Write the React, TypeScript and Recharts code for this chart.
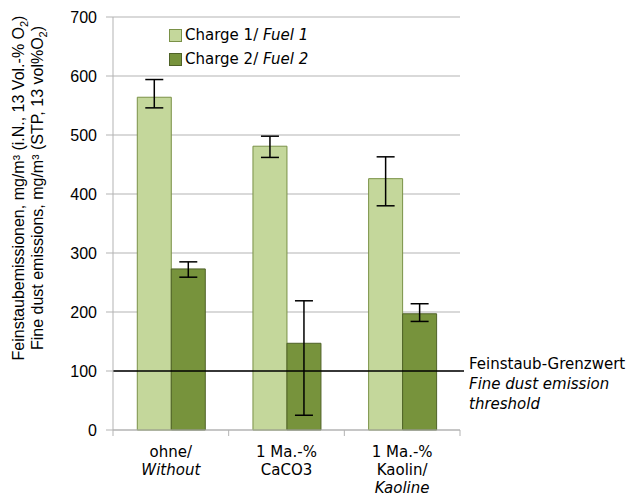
import React from 'react'
import { BarChart, Bar, XAxis, YAxis, CartesianGrid, ErrorBar, ReferenceLine, Legend } from 'recharts'

document.body.style.margin = '0'

const CATEGORIES = ['ohne', 'CaCO3', 'Kaolin']
const CATEGORY_LINES = [
  [{ text: 'ohne/', italic: false }, { text: 'Without', italic: true }],
  [{ text: '1 Ma.-%', italic: false }, { text: 'CaCO3', italic: false }],
  [{ text: '1 Ma.-%', italic: false }, { text: 'Kaolin/', italic: false }, { text: 'Kaoline', italic: true }],
]
// bar values and [minus, plus] error deltas
const FUEL1 = [564, 481, 426]
const FUEL1_ERR = [[18, 30], [19, 17], [46, 37]]
const FUEL2 = [273, 147, 197]
const FUEL2_ERR = [[14, 12], [122, 72], [13, 17]]
const Y_TICKS = [0, 100, 200, 300, 400, 500, 600, 700]
const THRESHOLD = 100

const W = 633
const H = 500
const X_AXIS_H = 30
const MARGIN = { top: 17, right: 173, bottom: 70 - X_AXIS_H, left: 0 }
const Y_AXIS_W = 113
const PLOT_W = W - MARGIN.right - Y_AXIS_W

const LIGHT = '#C4D79B'
const LIGHT_EDGE = '#7a9147'
const DARK = '#77933C'
const DARK_EDGE = '#4f6228'
const GRID = '#b3b3b3'
const SANS = '"DejaVu Sans", Verdana, sans-serif'
const ARIAL = '"Liberation Sans", Arial, sans-serif'

const data = CATEGORIES.map((c, i) => ({
  cat: c,
  fuel1: FUEL1[i],
  fuel1Err: FUEL1_ERR[i],
  fuel2: FUEL2[i],
  fuel2Err: FUEL2_ERR[i],
}))

function CategoryTick(props: any) {
  const { x, y, index } = props
  const band = PLOT_W / CATEGORIES.length
  const lines = CATEGORY_LINES[index] || []
  return (
    <g>
      <line x1={x - band / 2} x2={x - band / 2} y1={y - 6} y2={y} stroke={GRID} />
      {index === CATEGORIES.length - 1 && (
        <line x1={x + band / 2} x2={x + band / 2} y1={y - 6} y2={y} stroke={GRID} />
      )}
      <text textAnchor="middle" fontFamily={SANS} fontSize={15} fill="#000">
        {lines.map((l, i) => (
          <tspan key={i} x={x} y={y + 21 + i * 18} fontStyle={l.italic ? 'italic' : 'normal'}>
            {l.text}
          </tspan>
        ))}
      </text>
    </g>
  )
}

function YLabel() {
  const cy = 188
  return (
    <g fontFamily={ARIAL} fontSize={16} fill="#000">
      <text transform={`translate(24, ${cy}) rotate(-90)`} textAnchor="middle">
        Feinstaubemissionen, mg/m³ (i.N., 13 Vol.-% O
        <tspan dy={4} fontSize={11}>2</tspan>
        <tspan dy={-4}>)</tspan>
      </text>
      <text transform={`translate(43, ${cy}) rotate(-90)`} textAnchor="middle">
        Fine dust emissions, mg/m³ (STP, 13 vol%O
        <tspan dy={4} fontSize={11}>2</tspan>
        <tspan dy={-4}>)</tspan>
      </text>
    </g>
  )
}

function ThresholdLine(props: any) {
  const { x1, x2, y1 } = props
  return (
    <g>
      <line x1={x1} x2={x2 + 4} y1={y1} y2={y1} stroke="#000" strokeWidth={1.5} />
      <text fontFamily={SANS} fontSize={15} fill="#000">
        <tspan x={x2 + 9} y={y1 - 2}>Feinstaub-Grenzwert</tspan>
        <tspan x={x2 + 9} y={y1 + 18} fontStyle="italic">Fine dust emission</tspan>
        <tspan x={x2 + 9} y={y1 + 38} fontStyle="italic">threshold</tspan>
      </text>
    </g>
  )
}

function FuelLegend() {
  const items = [
    { color: LIGHT, edge: LIGHT_EDGE, name: 'Charge 1/ ', italic: 'Fuel 1' },
    { color: DARK, edge: DARK_EDGE, name: 'Charge 2/ ', italic: 'Fuel 2' },
  ]
  return (
    <div style={{ fontFamily: SANS, fontSize: 15, color: '#000' }}>
      {items.map((it) => (
        <div key={it.italic} style={{ display: 'flex', alignItems: 'center', height: 24 }}>
          <span
            style={{
              width: 11,
              height: 11,
              background: it.color,
              border: `1px solid ${it.edge}`,
              marginRight: 3,
              display: 'inline-block',
            }}
          />
          <span style={{ whiteSpace: 'pre' }}>{it.name}</span>
          <span style={{ fontStyle: 'italic' }}>{it.italic}</span>
        </div>
      ))}
    </div>
  )
}

export default function App() {
  return (
    <BarChart width={W} height={H} data={data} margin={MARGIN} barCategoryGap="21%" barGap={0}>
      <CartesianGrid vertical={false} stroke={GRID} />
      <XAxis
        dataKey="cat"
        height={X_AXIS_H}
        stroke={GRID}
        tickLine={false}
        tickSize={6}
        tickMargin={0}
        interval={0}
        tick={<CategoryTick />}
      />
      <YAxis
        width={Y_AXIS_W}
        domain={[0, 700]}
        ticks={Y_TICKS}
        stroke={GRID}
        tickSize={7}
        tickMargin={9}
        tick={{ fill: '#000', fontSize: 16, fontFamily: ARIAL }}
        label={{ content: <YLabel /> }}
      />
      <YAxis
        yAxisId="frame"
        orientation="right"
        width={0}
        domain={[0, 700]}
        stroke={GRID}
        tick={false}
        tickLine={false}
      />
      <Legend
        layout="vertical"
        align="center"
        verticalAlign="middle"
        content={<FuelLegend />}
        wrapperStyle={{ top: 23, left: 169, width: 'auto', height: 'auto' }}
      />
      <Bar dataKey="fuel1" fill={LIGHT} stroke={LIGHT_EDGE} isAnimationActive={false}>
        <ErrorBar dataKey="fuel1Err" width={9} stroke="#000" strokeWidth={1.5} />
      </Bar>
      <Bar dataKey="fuel2" fill={DARK} stroke={DARK_EDGE} isAnimationActive={false}>
        <ErrorBar dataKey="fuel2Err" width={9} stroke="#000" strokeWidth={1.5} />
      </Bar>
      <ReferenceLine y={THRESHOLD} shape={<ThresholdLine />} />
    </BarChart>
  )
}
